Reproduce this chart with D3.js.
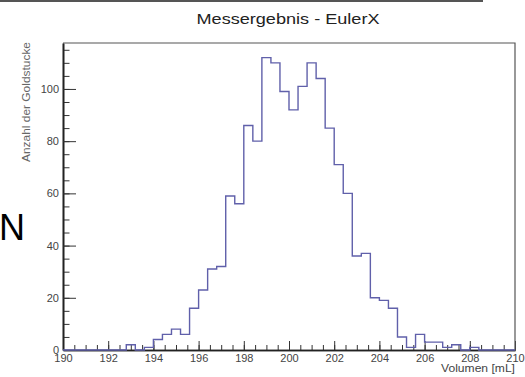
<!DOCTYPE html>
<html>
<head>
<meta charset="utf-8">
<script src="https://cdn.jsdelivr.net/npm/d3@7/dist/d3.min.js"></script>
<style>
body { margin: 0; background: #fff; }
text { font-family: "Liberation Sans", Arial, Helvetica, sans-serif; }
</style>
</head>
<body>
<div id="hist"></div>
<script>
// histogram: 50 bins of 0.4 mL between 190 and 210
var binStart = 190,
    binEnd = 210,
    binWidth = 0.4;

var counts = [
    0, 0, 0, 0, 0, 0, 0, 2, 0, 1,
    4, 6, 8, 6, 16, 23, 31, 32, 59, 56,
    86, 80, 112, 110, 99, 92, 101, 110, 104, 85,
    71, 60, 36, 37, 20, 19, 16, 5, 1, 6,
    3, 3, 1, 2, 0, 1, 0, 0, 0, 0
];

var xTickLabels = [190, 192, 194, 196, 198, 200, 202, 204, 206, 208, 210];
var yTickLabels = [0, 20, 40, 60, 80, 100];

var title = "Messergebnis - EulerX";
var xTitle = "Volumen [mL]";
var yTitle = "Anzahl der Goldstucke";

//margin conventions - frame box like the ROOT canvas
var margin = {
    top: 43,
    right: 10,
    bottom: 27,
    left: 63
};

var width = 525 - margin.left - margin.right,
    height = 377 - margin.top - margin.bottom;

var root = d3.select("#hist").append("svg")
    .attr("width", 525)
    .attr("height", 377);

var svg = root.append("g")
    .attr("transform", "translate(" + margin.left + "," + margin.top + ")");

var x = d3.scaleLinear()
    .domain([binStart, binEnd])
    .range([0, width]);

// ROOT puts 5% headroom over the tallest bin
var y = d3.scaleLinear()
    .domain([0, d3.max(counts) * 1.05])
    .range([height, 0]);

var tickColor = "#333";

//minor ticks first, no labels
svg.append("g")
    .attr("class", "x minor")
    .attr("transform", "translate(0," + height + ")")
    .call(d3.axisBottom(x)
        .tickValues(d3.range(binStart, binEnd + 0.01, 0.5))
        .tickSizeInner(-5)
        .tickSizeOuter(0)
        .tickFormat(""));

svg.append("g")
    .attr("class", "x axis")
    .attr("transform", "translate(0," + height + ")")
    .call(d3.axisBottom(x)
        .tickValues(xTickLabels)
        .tickSizeInner(-9)
        .tickSizeOuter(0)
        .tickPadding(4)
        .tickFormat(d3.format("d")));

svg.append("g")
    .attr("class", "y minor")
    .call(d3.axisLeft(y)
        .tickValues(d3.range(0, y.domain()[1], 5))
        .tickSizeInner(-6.5)
        .tickSizeOuter(0)
        .tickFormat(""));

svg.append("g")
    .attr("class", "y axis")
    .call(d3.axisLeft(y)
        .tickValues(yTickLabels)
        .tickSizeInner(-13)
        .tickSizeOuter(0)
        .tickPadding(4)
        .tickFormat(d3.format("d")));

svg.selectAll(".axis text, .minor text")
    .attr("font-size", 11)
    .attr("font-family", null)
    .attr("fill", "#444");

svg.selectAll(".axis line, .minor line")
    .attr("stroke", tickColor);

svg.selectAll(".domain")
    .attr("stroke", "#222")
    .attr("stroke-width", 1.6);

//frame top and right
svg.append("path")
    .attr("d", "M0,0H" + width + "V" + height)
    .attr("fill", "none")
    .attr("stroke", "#555")
    .attr("stroke-width", 1.2);

//step outline of the histogram
var pts = [{ x: binStart, y: 0 }];
counts.forEach(function (c, i) {
    pts.push({ x: binStart + i * binWidth, y: c });
});
pts.push({ x: binEnd, y: counts[counts.length - 1] });
pts.push({ x: binEnd, y: 0 });

var line = d3.line()
    .x(function (d) { return x(d.x); })
    .y(function (d) { return y(d.y); })
    .curve(d3.curveStepAfter);

svg.append("path")
    .datum(pts)
    .attr("d", line)
    .attr("fill", "none")
    .attr("stroke", "#6060aa")
    .attr("stroke-width", 1.4);

//titles
root.append("text")
    .attr("x", 288)
    .attr("y", 24)
    .attr("text-anchor", "middle")
    .attr("font-size", 15)
    .attr("textLength", 183)
    .attr("lengthAdjust", "spacingAndGlyphs")
    .attr("fill", "#222")
    .text(title);

root.append("text")
    .attr("x", margin.left + width)
    .attr("y", 372)
    .attr("text-anchor", "end")
    .attr("font-size", 10)
    .attr("textLength", 74)
    .attr("lengthAdjust", "spacingAndGlyphs")
    .attr("fill", "#444")
    .text(xTitle);

root.append("text")
    .attr("transform", "translate(30,42) rotate(-90)")
    .attr("text-anchor", "end")
    .attr("font-size", 10)
    .attr("textLength", 120)
    .attr("lengthAdjust", "spacingAndGlyphs")
    .attr("fill", "#666")
    .text(yTitle);

//leftover pieces of the page around the canvas
root.append("line")
    .attr("x1", 0)
    .attr("x2", 483)
    .attr("y1", 1)
    .attr("y2", 1)
    .attr("stroke", "#555")
    .attr("stroke-width", 2);

root.append("text")
    .attr("x", -1)
    .attr("y", 240)
    .attr("font-size", 36)
    .attr("fill", "#000")
    .text("N");
</script>
</body>
</html>
